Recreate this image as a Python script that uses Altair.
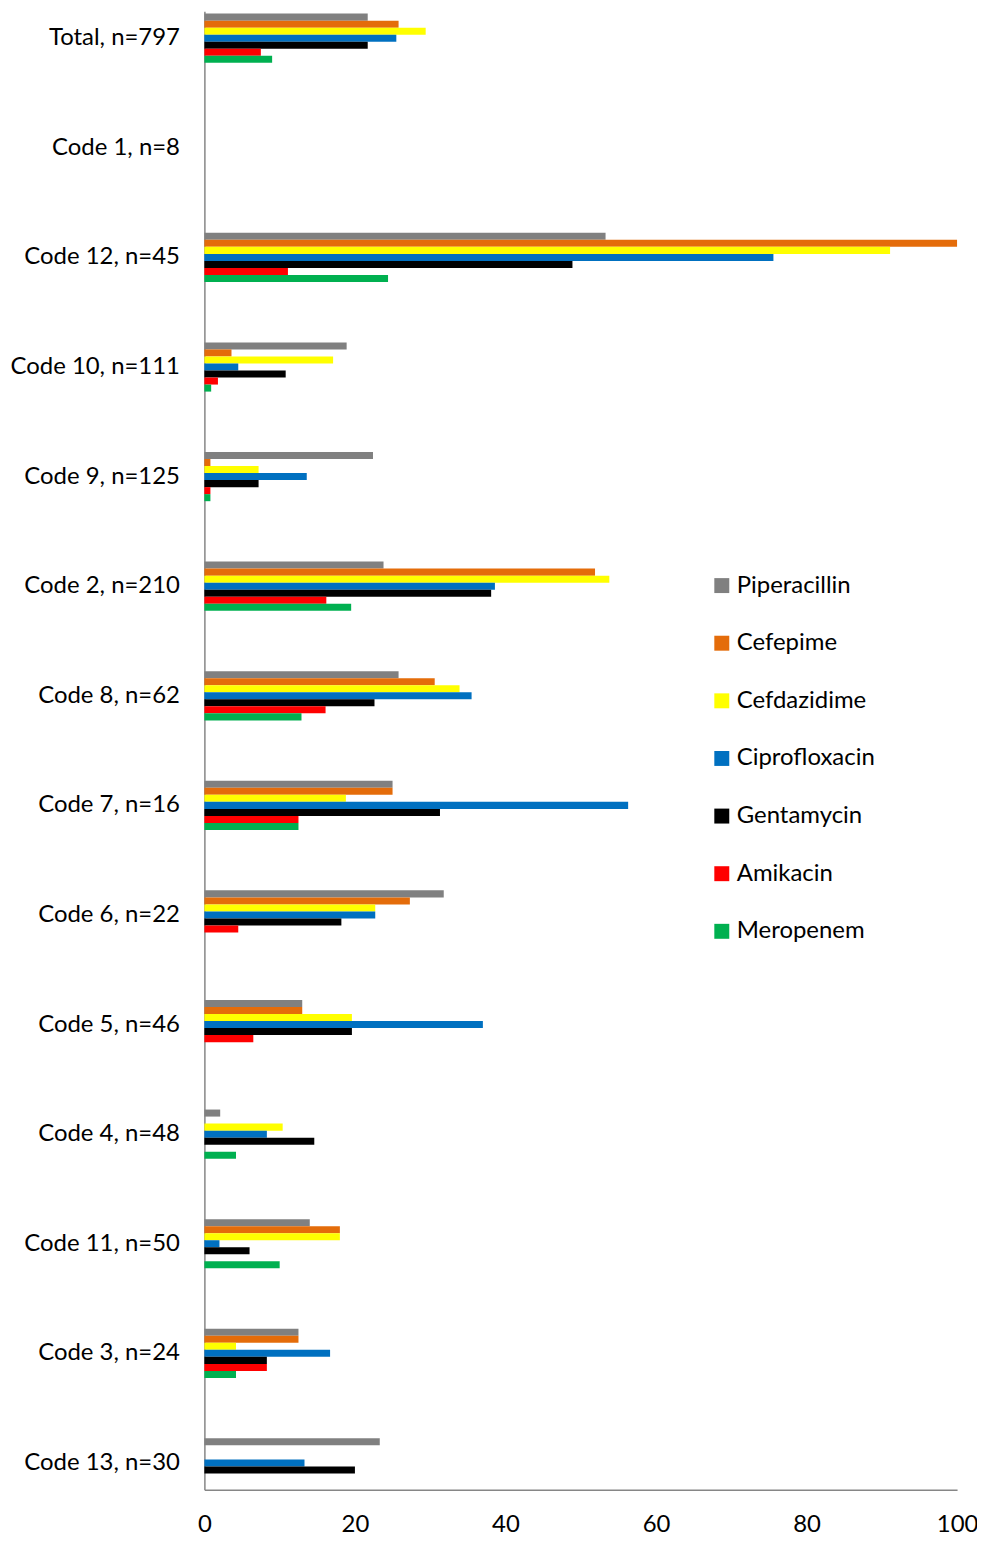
import altair as alt
import pandas as pd

categories = ["Total, n=797", "Code 1, n=8", "Code 12, n=45", "Code 10, n=111",
              "Code 9, n=125", "Code 2, n=210", "Code 8, n=62", "Code 7, n=16",
              "Code 6, n=22", "Code 5, n=46", "Code 4, n=48", "Code 11, n=50",
              "Code 3, n=24", "Code 13, n=30"]

series = ["Piperacillin", "Cefepime", "Cefdazidime", "Ciprofloxacin",
          "Gentamycin", "Amikacin", "Meropenem"]
colors = ["#808080", "#E46C0A", "#FFFF00", "#0070C0", "#000000", "#FF0000", "#00B050"]

piperacillin = [21.7, 0, 53.3, 18.9, 22.4, 23.8, 25.8, 25.0, 31.8, 13.0, 2.1, 14.0, 12.5, 23.3]
cefepime = [25.8, 0, 100.0, 3.6, 0.8, 51.9, 30.6, 25.0, 27.3, 13.0, 0, 18.0, 12.5, 0]
cefdazidime = [29.4, 0, 91.1, 17.1, 7.2, 53.8, 33.9, 18.8, 22.7, 19.6, 10.4, 18.0, 4.2, 0]
ciprofloxacin = [25.5, 0, 75.6, 4.5, 13.6, 38.6, 35.5, 56.3, 22.7, 37.0, 8.3, 2.0, 16.7, 13.3]
gentamycin = [21.7, 0, 48.9, 10.8, 7.2, 38.1, 22.6, 31.3, 18.2, 19.6, 14.6, 6.0, 8.3, 20.0]
amikacin = [7.5, 0, 11.1, 1.8, 0.8, 16.2, 16.1, 12.5, 4.5, 6.5, 0, 0, 8.3, 0]
meropenem = [9.0, 0, 24.4, 0.9, 0.8, 19.5, 12.9, 12.5, 0, 0, 4.2, 10.0, 4.2, 0]

x_ticks = [0, 20, 40, 60, 80, 100]

values = [piperacillin, cefepime, cefdazidime, ciprofloxacin, gentamycin, amikacin, meropenem]
rows = []
for s, vals in zip(series, values):
    for c, v in zip(categories, vals):
        rows.append({"category": c, "series": s, "value": v})
df = pd.DataFrame(rows)

FONT = "Lato"
FS = 24

chart = alt.Chart(df).mark_bar().encode(
    y=alt.Y("category:N", sort=categories,
            scale=alt.Scale(paddingInner=0.51, paddingOuter=0),
            axis=alt.Axis(title=None, ticks=False, labelFontSize=FS, labelFont=FONT,
                          labelColor="#000000", labelPadding=25,
                          domainColor="#868686", domainWidth=1.5)),
    yOffset=alt.YOffset("series:N", sort=series,
                        scale=alt.Scale(paddingOuter=0.32, paddingInner=0)),
    x=alt.X("value:Q", scale=alt.Scale(domain=[0, 100], nice=False),
            axis=alt.Axis(title=None, values=x_ticks, grid=False, ticks=False,
                          labelFlush=False, labelBaseline="middle",
                          labelFontSize=FS, labelFont=FONT, labelColor="#000000",
                          labelPadding=35, domainColor="#868686", domainWidth=1.5)),
    color=alt.Color("series:N", sort=series,
                    scale=alt.Scale(domain=series, range=colors),
                    legend=alt.Legend(title=None, orient="none", legendX=507, legendY=564,
                                      symbolType="square", symbolSize=225,
                                      symbolStrokeWidth=0, labelFontSize=FS,
                                      labelFont=FONT, labelColor="#000000",
                                      labelOffset=3, rowPadding=33.8)),
).properties(
    width=755, height=1483,
    autosize=alt.AutoSizeParams(type="none"),
    padding={"left": 197, "top": 1, "right": 20, "bottom": 49},
).configure_view(stroke=None)

chart.save("out.html", embed_options={"renderer": "svg", "actions": False})
